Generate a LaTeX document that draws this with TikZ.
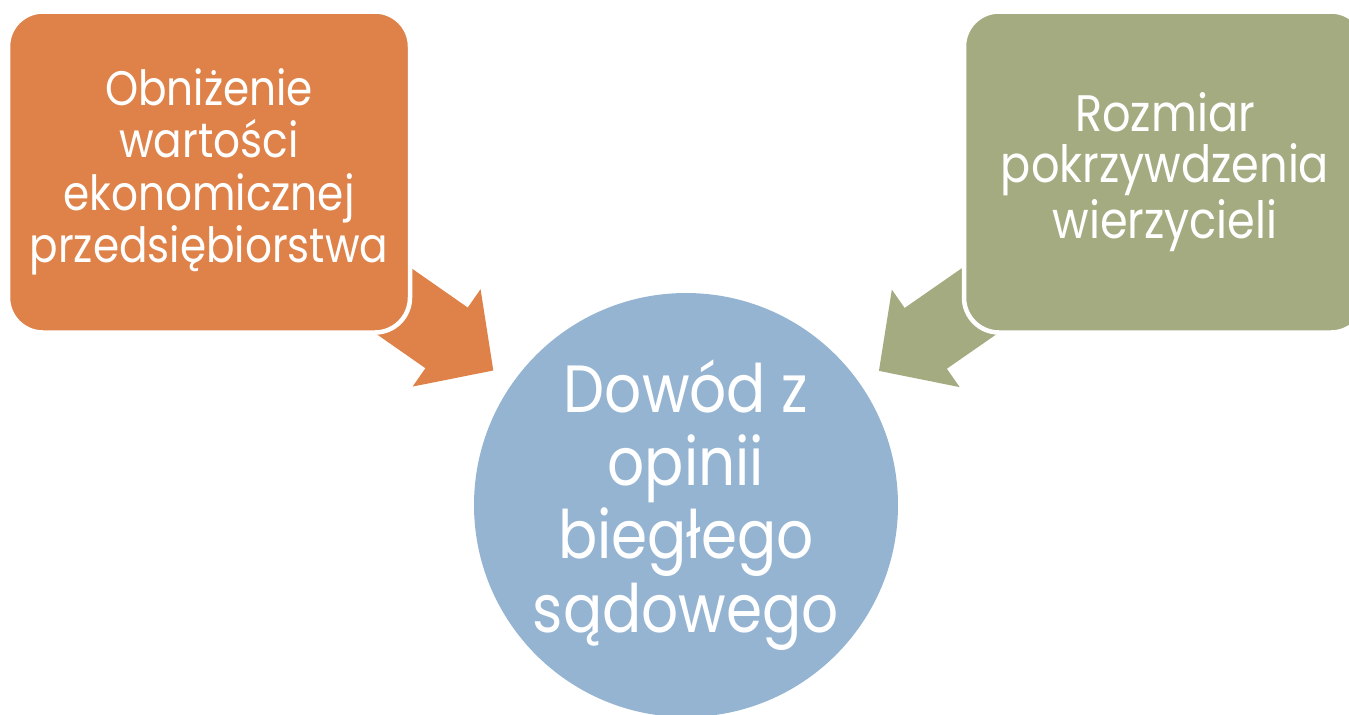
\documentclass[tikz,border=0pt]{standalone}
\usepackage{fontspec}
\setmainfont{Poppins}[FakeStretch=0.87]
\usetikzlibrary{arrows.meta,backgrounds}

\definecolor{orangebox}{RGB}{222,130,74}
\definecolor{greenbox}{RGB}{165,171,129}
\definecolor{bluecirc}{RGB}{149,180,210}

\begin{document}
\begin{tikzpicture}[
x=0.1mm, y=-0.1mm,
box/.style={draw=white, line width=0.45mm, rounded corners=3.5mm, minimum width=40.2mm, minimum height=32.1mm, text=white, align=center},
orbox/.style={box, fill=orangebox, font=\fontsize{13.8}{14.9}\selectfont},
grbox/.style={box, fill=greenbox, font=\fontsize{14.6}{14.6}\selectfont},
circ/.style={circle, fill=bluecirc, minimum size=42.4mm, inner sep=0pt, text=white, align=center, font=\fontsize{19}{20.8}\selectfont},
bigarrow/.style={line width=7.4mm, -{Triangle[width=11.8mm,length=5.7mm,line width=0.4mm]}, shorten >=23.5mm}
]
\useasboundingbox (0,0) rectangle (1349,714);

%boxes
\node[orbox] (obn) at (209,172) {Obniżenie\\wartości\\ekonomicznej\\przedsiębiorstwa};
\node[grbox] (rozm) at (1165,172) {Rozmiar\\pokrzywdzenia\\wierzycieli};

%circle
\node[circ] (dowod) at (686,505) {Dowód z\\opinii\\biegłego\\sądowego};

%arrows
\begin{scope}[on background layer]
\draw[bigarrow, orangebox] (obn.center) -- (dowod.center);
\draw[bigarrow, greenbox] (rozm.center) -- (dowod.center);
\end{scope}

\end{tikzpicture}
\end{document}
